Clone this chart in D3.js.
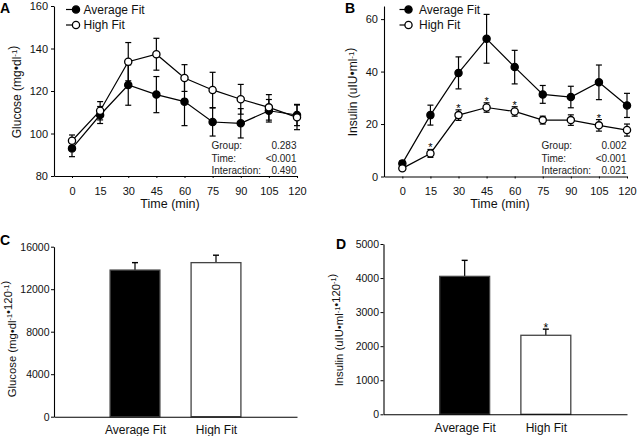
<!DOCTYPE html>
<html>
<head>
<meta charset="utf-8">
<script src="https://cdn.jsdelivr.net/npm/d3@7"></script>
<style>
  body { margin: 0; background: #fff; }
  svg { display: block; font-family: "Liberation Sans", Arial, sans-serif; }
</style>
</head>
<body>
<svg id="chart" width="640" height="436"></svg>
<script>
// ---------- data ----------
const times = [0, 15, 30, 45, 60, 75, 90, 105, 120];
const timeTicks = [0, 15, 30, 45, 60, 75, 90, 105, 120];
const seriesNames = ["Average Fit", "High Fit"];

const glucoseAvg   = [93.0, 108.7, 122.8, 118.3, 115.0, 105.4, 104.8, 110.7, 108.7];
const glucoseAvgSE = [3.9, 4.0, 9.5, 8.5, 11.3, 6.6, 6.9, 5.3, 5.0];
const glucoseHigh  = [96.6, 110.7, 133.8, 137.3, 126.1, 120.5, 116.1, 112.3, 107.6];
const glucoseHighSE= [2.7, 4.3, 9.0, 7.5, 6.3, 8.3, 7.0, 6.0, 5.8];
const glucoseTicks = [80, 100, 120, 140, 160];
const glucoseStats = [["Group:", "0.283"], ["Time:", "<0.001"], ["Interaction:", "0.490"]];

const insulinAvg   = [5.0, 23.4, 39.5, 52.5, 41.7, 31.3, 30.3, 35.9, 27.1];
const insulinAvgSE = [1.0, 3.8, 6.1, 9.3, 6.4, 3.4, 4.1, 6.6, 4.6];
const insulinHigh  = [3.1, 8.8, 23.4, 26.3, 24.8, 21.5, 21.5, 19.5, 17.7];
const insulinHighSE= [0.8, 1.5, 2.0, 1.8, 1.8, 1.5, 2.0, 2.2, 2.3];
const insulinHighSig = [false, true, true, true, true, false, false, true, false];
const insulinTicks = [0, 20, 40, 60];
const insulinStats = [["Group:", "0.002"], ["Time:", "<0.001"], ["Interaction:", "0.021"]];

const groups = ["Average Fit", "High Fit"];
const glucoseAUC   = [13800, 14500];
const glucoseAUCSE = [700, 700];
const glucoseAUCTicks = [0, 4000, 8000, 12000, 16000];
const insulinAUC   = [4050, 2320];
const insulinAUCSE = [470, 180];
const insulinAUCSig = [false, true];
const insulinAUCTicks = [0, 1000, 2000, 3000, 4000, 5000];

// ---------- helpers ----------
const svg = d3.select("#chart");
const FONT = "Liberation Sans, Arial, sans-serif";

function yTitle(g, x, y, parts, fs) {
  const t = g.append("text")
    .attr("transform", `translate(${x},${y}) rotate(-90)`)
    .attr("text-anchor", "middle")
    .attr("font-size", fs)
    .attr("fill", "#111");
  parts.forEach(p => {
    if (p.sup) {
      t.append("tspan").attr("dy", -3.5).attr("font-size", fs * 0.65).text(p.t);
      t.append("tspan").attr("dy", 3.5).text("");
    } else {
      t.append("tspan").text(p.t);
    }
  });
}

function panelLetter(x, y, L) {
  svg.append("text").attr("x", x).attr("y", y)
    .attr("font-size", 14).attr("font-weight", "bold").attr("fill", "#000").text(L);
}

function styleAxis(g, fs) {
  g.selectAll("path.domain").attr("stroke", "#000").attr("stroke-width", 1.1);
  g.selectAll(".tick line").attr("stroke", "#000");
  g.selectAll(".tick text").attr("font-size", fs).attr("font-family", FONT).attr("fill", "#111");
}

function linePanel(opt) {
  const g = svg.append("g");
  const x = d3.scaleLinear().domain(opt.xDomain).range(opt.xRange);
  const y = d3.scaleLinear().domain(opt.yDomain).range(opt.yRange);

  const ax = g.append("g").attr("transform", `translate(0,${opt.yRange[0]})`)
    .call(d3.axisBottom(x).tickValues(timeTicks).tickFormat(d3.format("d"))
      .tickSize(2).tickSizeOuter(0).tickPadding(9));
  styleAxis(ax, 11);
  const ay = g.append("g").attr("transform", `translate(${opt.xRange[0]},0)`)
    .call(d3.axisLeft(y).tickValues(opt.yTicks).tickFormat(d3.format("d"))
      .tickSize(3).tickSizeOuter(0).tickPadding(3));
  styleAxis(ay, 11);

  const series = [
    {vals: opt.avg, se: opt.avgSE, fill: "#000"},
    {vals: opt.high, se: opt.highSE, fill: "#fff"}
  ];
  const line = d3.line().x((d, i) => x(times[i])).y(d => y(d));
  series.forEach(s => {
    const eb = g.append("g").attr("stroke", "#000").attr("stroke-width", 1.2);
    s.vals.forEach((v, i) => {
      const cx = x(times[i]);
      const y1 = y(v + s.se[i]), y0 = y(v - s.se[i]);
      eb.append("line").attr("x1", cx).attr("x2", cx).attr("y1", y1).attr("y2", y0);
      eb.append("line").attr("x1", cx - 3).attr("x2", cx + 3).attr("y1", y1).attr("y2", y1);
      eb.append("line").attr("x1", cx - 3).attr("x2", cx + 3).attr("y1", y0).attr("y2", y0);
    });
  });
  series.forEach(s => {
    g.append("path").datum(s.vals).attr("d", line)
      .attr("fill", "none").attr("stroke", "#000").attr("stroke-width", 1.2);
  });
  series.forEach(s => {
    g.selectAll(null).data(s.vals).enter().append("circle")
      .attr("cx", (d, i) => x(times[i])).attr("cy", d => y(d)).attr("r", 3.6)
      .attr("fill", s.fill).attr("stroke", "#000").attr("stroke-width", 1.3);
  });
  if (opt.sig) {
    opt.sig.forEach((s, i) => {
      if (!s) return;
      g.append("text").attr("x", x(times[i])).attr("y", y(opt.high[i] + opt.highSE[i]) + 2)
        .attr("text-anchor", "middle").attr("font-size", 11).attr("fill", "#000").text("*");
    });
  }
  const lg = g.append("g");
  seriesNames.forEach((n, k) => {
    const ly = opt.legY[k];
    lg.append("line").attr("x1", opt.legX[0]).attr("x2", opt.legX[1]).attr("y1", ly).attr("y2", ly)
      .attr("stroke", "#000").attr("stroke-width", 1.2);
    lg.append("circle").attr("cx", opt.legX[1]).attr("cy", ly).attr("r", 3.6)
      .attr("fill", k === 0 ? "#000" : "#fff").attr("stroke", "#000").attr("stroke-width", 1.3);
    lg.append("text").attr("x", opt.legX[2]).attr("y", ly + 4.3).attr("font-size", 12)
      .attr("fill", "#111").text(n);
  });
  opt.stats.forEach((r, k) => {
    const sy = opt.statY + k * 12.3;
    g.append("text").attr("x", opt.statX[0]).attr("y", sy).attr("font-size", 10).attr("fill", "#222").text(r[0]);
    g.append("text").attr("x", opt.statX[1]).attr("y", sy).attr("font-size", 10).attr("fill", "#222")
      .attr("text-anchor", "end").text(r[1]);
  });
  g.append("text").attr("x", opt.xTitleX).attr("y", 207.5).attr("text-anchor", "middle")
    .attr("font-size", 12.5).attr("fill", "#111").text("Time (min)");
  yTitle(g, opt.yTitlePos[0], opt.yTitlePos[1], opt.yTitle, 12);
}

function barPanel(opt) {
  const g = svg.append("g");
  const x = d3.scalePoint().domain(groups).range(opt.xRange).padding(1);
  const y = d3.scaleLinear().domain(opt.yDomain).range(opt.yRange);
  const bw = x.step() * 0.615;

  groups.forEach((gr, i) => {
    const cx = x(gr);
    const top = y(opt.vals[i]), cap = y(opt.vals[i] + opt.se[i]);
    g.append("line").attr("x1", cx).attr("x2", cx).attr("y1", top).attr("y2", cap)
      .attr("stroke", "#000").attr("stroke-width", 1.2);
    g.append("line").attr("x1", cx - 3).attr("x2", cx + 3).attr("y1", cap).attr("y2", cap)
      .attr("stroke", "#000").attr("stroke-width", 1.4);
    g.append("rect").attr("x", cx - bw / 2).attr("y", top).attr("width", bw)
      .attr("height", y(0) - top)
      .attr("fill", i === 0 ? "#000" : "#fff").attr("stroke", "#444").attr("stroke-width", 1.3);
    if (opt.sig && opt.sig[i]) {
      g.append("text").attr("x", cx).attr("y", cap + 3).attr("text-anchor", "middle")
        .attr("font-size", 12).attr("fill", "#000").text("*");
    }
  });

  const ax = g.append("g").attr("transform", `translate(0,${opt.yRange[0]})`)
    .call(d3.axisBottom(x).tickSize(0).tickSizeOuter(0).tickPadding(9));
  styleAxis(ax, 12);
  const ay = g.append("g").attr("transform", `translate(${opt.xRange[0]},0)`)
    .call(d3.axisLeft(y).tickValues(opt.yTicks).tickFormat(d3.format("d"))
      .tickSize(3).tickSizeOuter(0).tickPadding(1.5));
  styleAxis(ay, 10.5);
  yTitle(g, opt.yTitlePos[0], opt.yTitlePos[1], opt.yTitle, 11.3);
}

// ---------- panels ----------
linePanel({
  xDomain: [-9.6, 120], xRange: [54, 297],
  yDomain: [80, 160], yRange: [176, 6], yTicks: glucoseTicks,
  avg: glucoseAvg, avgSE: glucoseAvgSE, high: glucoseHigh, highSE: glucoseHighSE,
  legX: [66, 76, 83.5], legY: [9.5, 25],
  stats: glucoseStats, statX: [211.5, 296.5], statY: 149.3,
  xTitleX: 170, yTitlePos: [20.5, 92],
  yTitle: [{t: "Glucose (mg\u2022dl"}, {t: "-1", sup: true}, {t: ")"}]
});
linePanel({
  xDomain: [-9.8, 120], xRange: [384, 627],
  yDomain: [0, 65], yRange: [176.5, 6], yTicks: insulinTicks,
  avg: insulinAvg, avgSE: insulinAvgSE, high: insulinHigh, highSE: insulinHighSE,
  sig: insulinHighSig,
  legX: [399.5, 408.5, 419], legY: [9.5, 25],
  stats: insulinStats, statX: [541.5, 626.5], statY: 149.3,
  xTitleX: 500, yTitlePos: [357, 92],
  yTitle: [{t: "Insulin (uIU\u2022ml"}, {t: "-1", sup: true}, {t: ")"}]
});
barPanel({
  xRange: [54, 297], yDomain: [0, 16000], yRange: [416.7, 246.7], yTicks: glucoseAUCTicks,
  vals: glucoseAUC, se: glucoseAUCSE,
  yTitlePos: [15.5, 339],
  yTitle: [{t: "Glucose (mg\u2022dl"}, {t: "-1", sup: true}, {t: "\u2022120"}, {t: "-1", sup: true}, {t: ")"}]
});
barPanel({
  xRange: [383.5, 627], yDomain: [0, 5000], yRange: [414.3, 244], yTicks: insulinAUCTicks,
  vals: insulinAUC, se: insulinAUCSE, sig: insulinAUCSig,
  yTitlePos: [343, 330],
  yTitle: [{t: "Insulin (uIU\u2022ml"}, {t: "-1", sup: true}, {t: "\u2022120"}, {t: "-1", sup: true}, {t: ")"}]
});

panelLetter(0, 12.5, "A");
panelLetter(345, 13, "B");
panelLetter(0, 245, "C");
panelLetter(336, 248.5, "D");
</script>
</body>
</html>
